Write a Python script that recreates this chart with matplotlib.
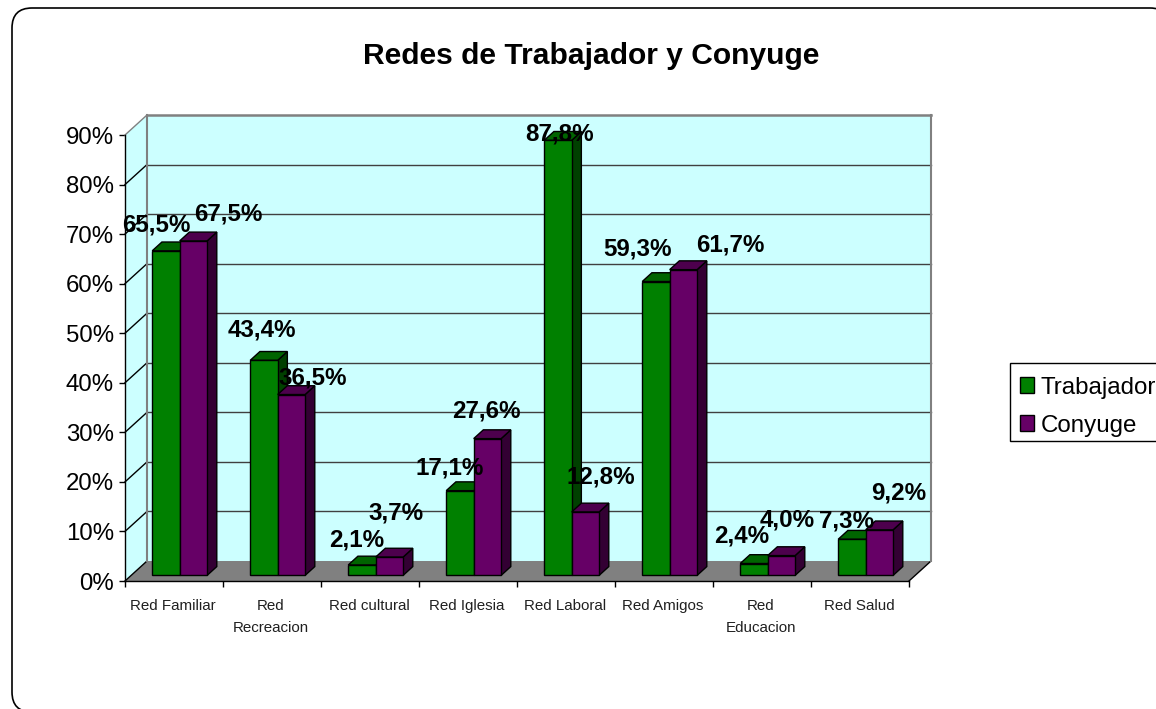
import matplotlib
matplotlib.use('Agg')
import matplotlib.pyplot as plt
from matplotlib.patches import FancyBboxPatch, Patch, Polygon, Rectangle

plt.rcParams['font.family'] = ['Liberation Sans', 'DejaVu Sans']

categories = ['Red Familiar', 'Red\nRecreacion', 'Red cultural', 'Red Iglesia',
              'Red Laboral', 'Red Amigos', 'Red\nEducacion', 'Red Salud']
trabajador = [65.5, 43.4, 2.1, 17.1, 87.8, 59.3, 2.4, 7.3]
conyuge = [67.5, 36.5, 3.7, 27.6, 12.8, 61.7, 4.0, 9.2]
y_ticks = [0, 10, 20, 30, 40, 50, 60, 70, 80, 90]

# label shifts in pixels from the top of each bar, labels were moved by hand in the original
trabajador_shift = [(-10, 26), (-2, 30), (-5, 25), (-10, 23), (2, 6), (-18, 33), (-12, 28), (-5, 18)]
conyuge_shift = [(35, 27), (21, 17), (7, 44), (-1, 28), (15, 35), (47, 25), (6, 36), (19, 37)]

W, H = 1156, 709
fig = plt.figure(figsize=(W / 100, H / 100), dpi=100)
fig.patch.set_facecolor('white')

# outer rounded frame, runs off the right and bottom of the picture
frame = FancyBboxPatch((32, H - 712 + 20), 1118, 664, boxstyle='round,pad=20,rounding_size=20',
                       transform=None, facecolor='white', edgecolor='black', linewidth=1.2, zorder=-1)
fig.patches.append(frame)

ax = fig.add_axes([125 / W, 1 - 581 / H, (909 - 125) / W, (581 - 135) / H])
ax.set_xlim(0, 8)
ax.set_ylim(0, 90)
ax.patch.set_visible(False)

DX = 22 / 98
DY = 20 / (446 / 90)
D0, D1 = 0.28, 0.72
BAR_W = 0.28
BAR_X = 0.215


def poly(points, face, edge='none', lw=0.0, z=1):
    ax.add_patch(Polygon(points, closed=True, facecolor=face, edgecolor=edge, linewidth=lw,
                         zorder=z, clip_on=False))


# walls and floor
poly([(0, 0), (DX, DY), (DX, 90 + DY), (0, 90)], '#CCFFFF', z=1)
ax.add_patch(Rectangle((DX, DY), 8, 90, facecolor='#CCFFFF', edgecolor='none', zorder=1, clip_on=False))
poly([(0, 0), (8, 0), (8 + DX, DY), (DX, DY)], '#808080', z=1)

for v in y_ticks[1:-1]:
    ax.plot([0, DX], [v, v + DY], color='black', lw=1.0, zorder=2, clip_on=False)
    ax.plot([DX, 8 + DX], [v + DY, v + DY], color='#404040', lw=1.0, zorder=2, clip_on=False)
ax.plot([0, DX], [0, DY], color='black', lw=1.0, zorder=2, clip_on=False)
ax.plot([8, 8 + DX], [0, DY], color='black', lw=1.0, zorder=2, clip_on=False)
ax.plot([DX, DX], [DY, 90 + DY], color='#808080', lw=1.5, zorder=2, clip_on=False)
ax.plot([8 + DX, 8 + DX], [DY, 90 + DY], color='#808080', lw=1.5, zorder=2, clip_on=False)
ax.plot([DX, 8 + DX], [90 + DY, 90 + DY], color='#808080', lw=1.8, zorder=2, clip_on=False)
ax.plot([0, DX], [90, 90 + DY], color='#808080', lw=1.0, zorder=2, clip_on=False)


def draw_series(values, shifts, start, front, top, side, z):
    for i, v in enumerate(values):
        x0 = i + start + D0 * DX
        x1 = x0 + BAR_W
        y0 = D0 * DY
        ddx = (D1 - D0) * DX
        ddy = (D1 - D0) * DY
        poly([(x1, y0), (x1 + ddx, y0 + ddy), (x1 + ddx, y0 + ddy + v), (x1, y0 + v)],
             side, 'black', 1.0, z)
        poly([(x0, y0 + v), (x1, y0 + v), (x1 + ddx, y0 + v + ddy), (x0 + ddx, y0 + v + ddy)],
             top, 'black', 1.0, z)
        ax.bar(x0, v, BAR_W, bottom=y0, align='edge', color=front, edgecolor='black',
               linewidth=1.0, zorder=z, clip_on=False)
        ax.annotate(f'{v:.1f}%'.replace('.', ','), (x0 + BAR_W / 2, y0 + v),
                    xytext=shifts[i], textcoords='offset pixels', ha='center', va='center',
                    fontsize=17.4, fontweight='bold', color='black', zorder=10, annotation_clip=False)


draw_series(trabajador, trabajador_shift, BAR_X, '#008000', '#006400', '#004000', 3)
draw_series(conyuge, conyuge_shift, BAR_X + BAR_W, '#660066', '#4D004D', '#330033', 4)

for name in ['top', 'right']:
    ax.spines[name].set_visible(False)
for name in ['left', 'bottom']:
    ax.spines[name].set_linewidth(1.0)
    ax.spines[name].set_zorder(5)

ax.set_yticks(y_ticks)
ax.set_yticklabels([f'{v}%' for v in y_ticks], fontsize=17.3)
ax.tick_params(axis='y', length=4, width=1.0, pad=4)
ax.set_xticks(range(9))
ax.set_xticklabels([])
ax.tick_params(axis='x', which='major', length=4, width=1.0)
ax.set_xticks([i + 0.49 for i in range(8)], minor=True)
ax.set_xticklabels(categories, minor=True, fontsize=10.9, linespacing=1.72, va='top', color='#202020')
ax.tick_params(axis='x', which='minor', length=0, pad=13)

fig.text(591 / W, 1 - 56 / H, 'Redes de Trabajador y Conyuge', ha='center', va='center',
         fontsize=21.6, fontweight='bold')

# legend box drawn on its own, it is cut by the picture edge
fig.patches.append(Rectangle((1010, H - 441), 160, 78, transform=None, facecolor='white',
                             edgecolor='black', linewidth=1.0, zorder=-0.5))
handles = [Patch(facecolor='#008000', edgecolor='black', label='Trabajador'),
           Patch(facecolor='#660066', edgecolor='black', label='Conyuge')]
fig.legend(handles=handles, loc='upper left', bbox_to_anchor=(1010 / W, 1 - 367 / H),
           frameon=False, fontsize=17.4, handlelength=0.6, handleheight=0.6,
           handletextpad=0.27, labelspacing=0.66, borderpad=0.4, borderaxespad=0)

fig.savefig('out.png', dpi=100)
